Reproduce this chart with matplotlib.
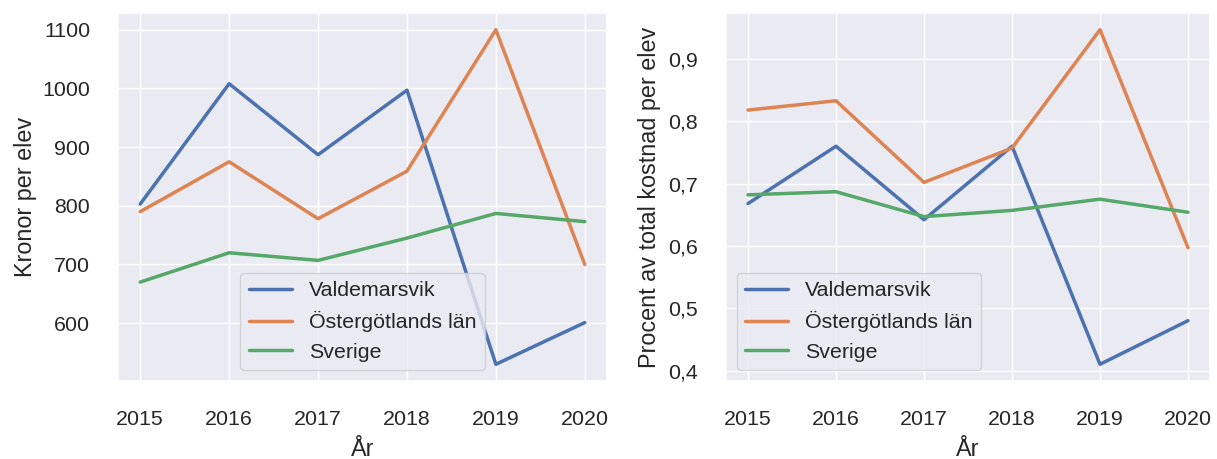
import matplotlib
matplotlib.use("Agg")
import matplotlib.pyplot as plt
import seaborn as sns
from matplotlib.ticker import FuncFormatter

years = [2015, 2016, 2017, 2018, 2019, 2020]
series_names = ["Valdemarsvik", "Östergötlands län", "Sverige"]

kronor_valdemarsvik = [803, 1008, 887, 997, 530, 601]
kronor_ostergotland = [790, 875, 778, 859, 1100, 700]
kronor_sverige = [670, 720, 707, 745, 787, 773]

procent_valdemarsvik = [0.668, 0.760, 0.642, 0.760, 0.410, 0.480]
procent_ostergotland = [0.818, 0.833, 0.702, 0.757, 0.947, 0.597]
procent_sverige = [0.682, 0.687, 0.647, 0.657, 0.675, 0.654]

sns.set_theme(style="darkgrid", font_scale=1.4)
plt.rcParams['font.family'] = ['Liberation Sans', 'DejaVu Sans']
plt.rcParams['xtick.major.pad'] = 15
plt.rcParams['ytick.major.pad'] = 14

W, H = 1217, 459
fig = plt.figure(figsize=(W / 100, H / 100), dpi=100)
ax1 = fig.add_axes([118 / W, 1 - 381 / H, (607 - 118) / W, (381 - 13) / H])
ax2 = fig.add_axes([726 / W, 1 - 381 / H, (1210 - 726) / W, (381 - 13) / H])

for vals, name in zip([kronor_valdemarsvik, kronor_ostergotland, kronor_sverige], series_names):
    ax1.plot(years, vals, label=name, linewidth=2.5)
ax1.set_xlabel("År", labelpad=6)
ax1.set_ylabel("Kronor per elev", labelpad=4)
ax1.legend(loc="lower center")

for vals, name in zip([procent_valdemarsvik, procent_ostergotland, procent_sverige], series_names):
    ax2.plot(years, vals, label=name, linewidth=2.5)
ax2.set_xlabel("År", labelpad=6)
ax2.set_ylabel("Procent av total kostnad per elev", labelpad=5)
ax2.yaxis.set_major_formatter(FuncFormatter(lambda v, p: f"{v:.1f}".replace(".", ",")))
ax2.legend(loc="lower left")

plt.savefig("out.png", dpi=100)
